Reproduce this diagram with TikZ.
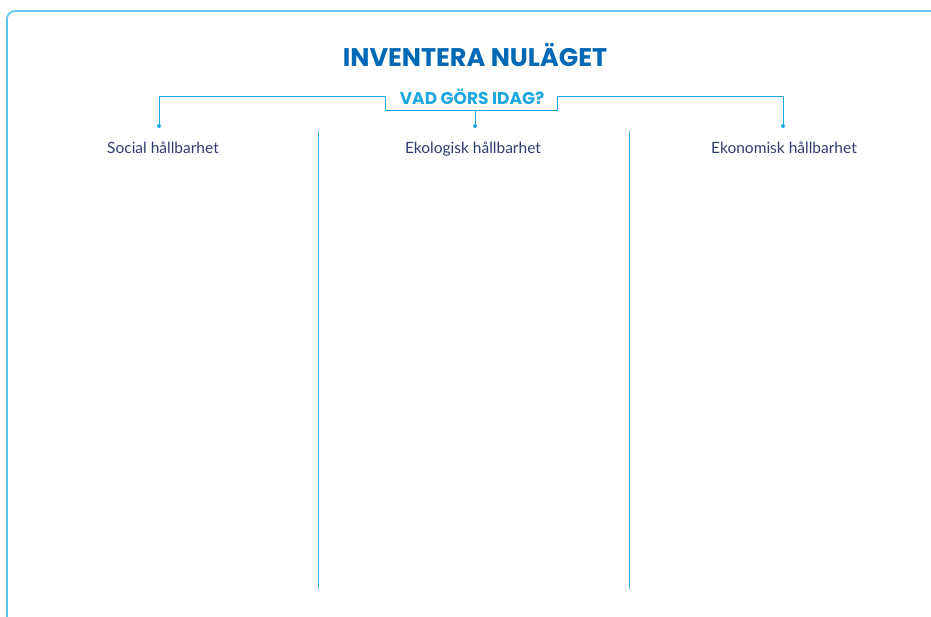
\documentclass[tikz,border=0pt]{standalone}
\usepackage{fontspec}
\setmainfont{Lato}
\newfontfamily\headfont{Poppins}
\usetikzlibrary{positioning}
\definecolor{framecyan}{HTML}{5BC5EA}
\definecolor{linecyan}{HTML}{1BA6E0}
\definecolor{titleblue}{HTML}{0068B4}
\definecolor{labelnavy}{HTML}{2E3D6E}
\tikzset{
    heading/.style={font=\headfont\bfseries\fontsize{25.5}{28}\selectfont, text=titleblue, inner sep=0pt},
    subheading/.style={font=\headfont\bfseries\fontsize{17}{19}\selectfont, text=linecyan, inner sep=0pt},
    column/.style={font=\fontsize{15.5}{18}\selectfont, text=labelnavy, inner sep=0pt, anchor=base},
    bracket/.style={color=linecyan, line width=1pt},
    divider/.style={color=linecyan!85, line width=0.9pt},
    dot/.style={fill=linecyan, circle, inner sep=0pt, minimum size=4pt}
}

\begin{document}
\begin{tikzpicture}[x=1pt,y=-1pt]
    \useasboundingbox (0,0) rectangle (931,617);

    % Outer frame
    \draw[framecyan, line width=1.6pt, rounded corners=8pt] (7,618) -- (7,11) -- (932,11);

    % Headings
    \node[heading] (title) at (475,55) {INVENTERA NULÄGET};
    \node[subheading] (question) at (472,97) {VAD GÖRS IDAG?};

    % Column labels
    \node[column] (social) at (163,154) {Social hållbarhet};
    \node[column] (ekolog) at (473,154) {Ekologisk hållbarhet};
    \node[column] (ekonom) at (784,154) {Ekonomisk hållbarhet};

    % Bracket ends
    \node[dot] (dsocial) at (159,126) {};
    \node[dot] (dekolog) at (475,126) {};
    \node[dot] (dekonom) at (783,126) {};
    \coordinate (tl) at (385,97);
    \coordinate (bl) at (385,111);
    \coordinate (br) at (557,111);
    \coordinate (tr) at (557,97);
    \coordinate (bm) at (475,111);

    \draw[bracket] (dsocial.center) |- (tl) -- (bl) -- (br) -- (tr) -| (dekonom.center);
    \draw[bracket] (dekolog.center) -- (bm);

    % Column dividers
    \coordinate (c1) at (318,131);
    \coordinate (c2) at (629,131);
    \draw[divider] (c1) -- ++(0,458);
    \draw[divider] (c2) -- ++(0,458);
\end{tikzpicture}
\end{document}
